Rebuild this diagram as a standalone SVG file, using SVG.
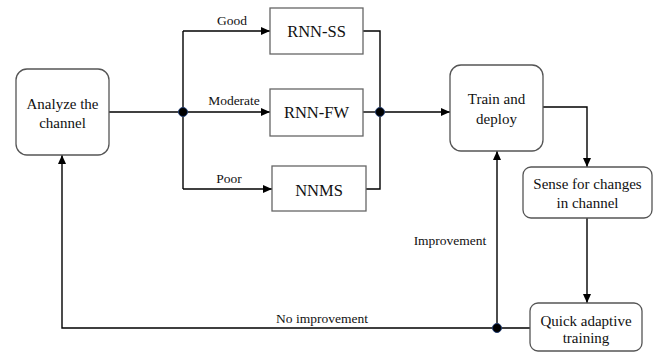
<svg xmlns="http://www.w3.org/2000/svg" width="654" height="352" viewBox="0 0 654 352" font-family="Liberation Serif, Times New Roman, serif">
<style>
.rbox{fill:#fff;stroke:#555;stroke-width:1.3}
.box{fill:#fff;stroke:#666;stroke-width:1.3}
.t{font-size:15px;fill:#111;text-anchor:middle}
.tb{font-size:16.5px;fill:#111;text-anchor:middle}
.lbl{font-size:13.5px;fill:#111;text-anchor:middle}
.c{fill:none;stroke:#000;stroke-width:1.4}
.dot{fill:#000;stroke:#1f3a6e;stroke-width:1}
</style>
<defs>
<marker id="ah" markerWidth="9" markerHeight="8" refX="9" refY="4" orient="auto" markerUnits="userSpaceOnUse">
<path d="M0,0 L9,4 L0,8 Z" fill="#000"/>
</marker>
</defs>
<g id="connectors">
<path class="c" d="M109,112 H183"/>
<path class="c" d="M183,31 V189"/>
<path class="c" d="M183,31 H270" marker-end="url(#ah)"/>
<path class="c" d="M183,112 H270" marker-end="url(#ah)"/>
<path class="c" d="M183,189 H272" marker-end="url(#ah)"/>
<path class="c" d="M363,31 H380 V189 H366"/>
<path class="c" d="M363,112 H380"/>
<path class="c" d="M380,112 H450" marker-end="url(#ah)"/>
<path class="c" d="M543,107 H587 V167" marker-end="url(#ah)"/>
<path class="c" d="M587,218 V303" marker-end="url(#ah)"/>
<path class="c" d="M530,328 H62 V155" marker-end="url(#ah)"/>
<path class="c" d="M497,328 V151" marker-end="url(#ah)"/>
<circle class="dot" cx="183" cy="112" r="4.5"/>
<circle class="dot" cx="380" cy="112" r="4.5"/>
<circle class="dot" cx="497" cy="328" r="4.5"/>
<text class="lbl" x="232" y="25">Good</text>
<text class="lbl" x="234" y="105">Moderate</text>
<text class="lbl" x="229" y="183">Poor</text>
<text class="lbl" x="450" y="245">Improvement</text>
<text class="lbl" x="322" y="323">No improvement</text>
</g>
<g id="analyze">
<rect class="rbox" x="16" y="69" width="93" height="86" rx="11"/>
<text class="t" x="62.5" y="109">Analyze the</text>
<text class="t" x="62.5" y="128">channel</text>
</g>
<g id="rnn-ss">
<rect class="box" x="270" y="8" width="93" height="46"/>
<text class="tb" x="316.5" y="37">RNN-SS</text>
</g>
<g id="rnn-fw">
<rect class="box" x="270" y="89" width="93" height="47"/>
<text class="tb" x="316.5" y="118">RNN-FW</text>
</g>
<g id="nnms">
<rect class="box" x="272" y="166" width="94" height="45"/>
<text class="tb" x="319" y="196">NNMS</text>
</g>
<g id="train">
<rect class="rbox" x="450" y="65" width="93" height="86" rx="11"/>
<text class="t" x="496.5" y="104">Train and</text>
<text class="t" x="496.5" y="124">deploy</text>
</g>
<g id="sense">
<rect class="rbox" x="523" y="167" width="129" height="51" rx="8"/>
<text class="t" x="587.5" y="189">Sense for changes</text>
<text class="t" x="587.5" y="208">in channel</text>
</g>
<g id="quick">
<rect class="rbox" x="530" y="303" width="112" height="48" rx="8"/>
<text class="t" x="586" y="326">Quick adaptive</text>
<text class="t" x="586" y="343">training</text>
</g>
</svg>
